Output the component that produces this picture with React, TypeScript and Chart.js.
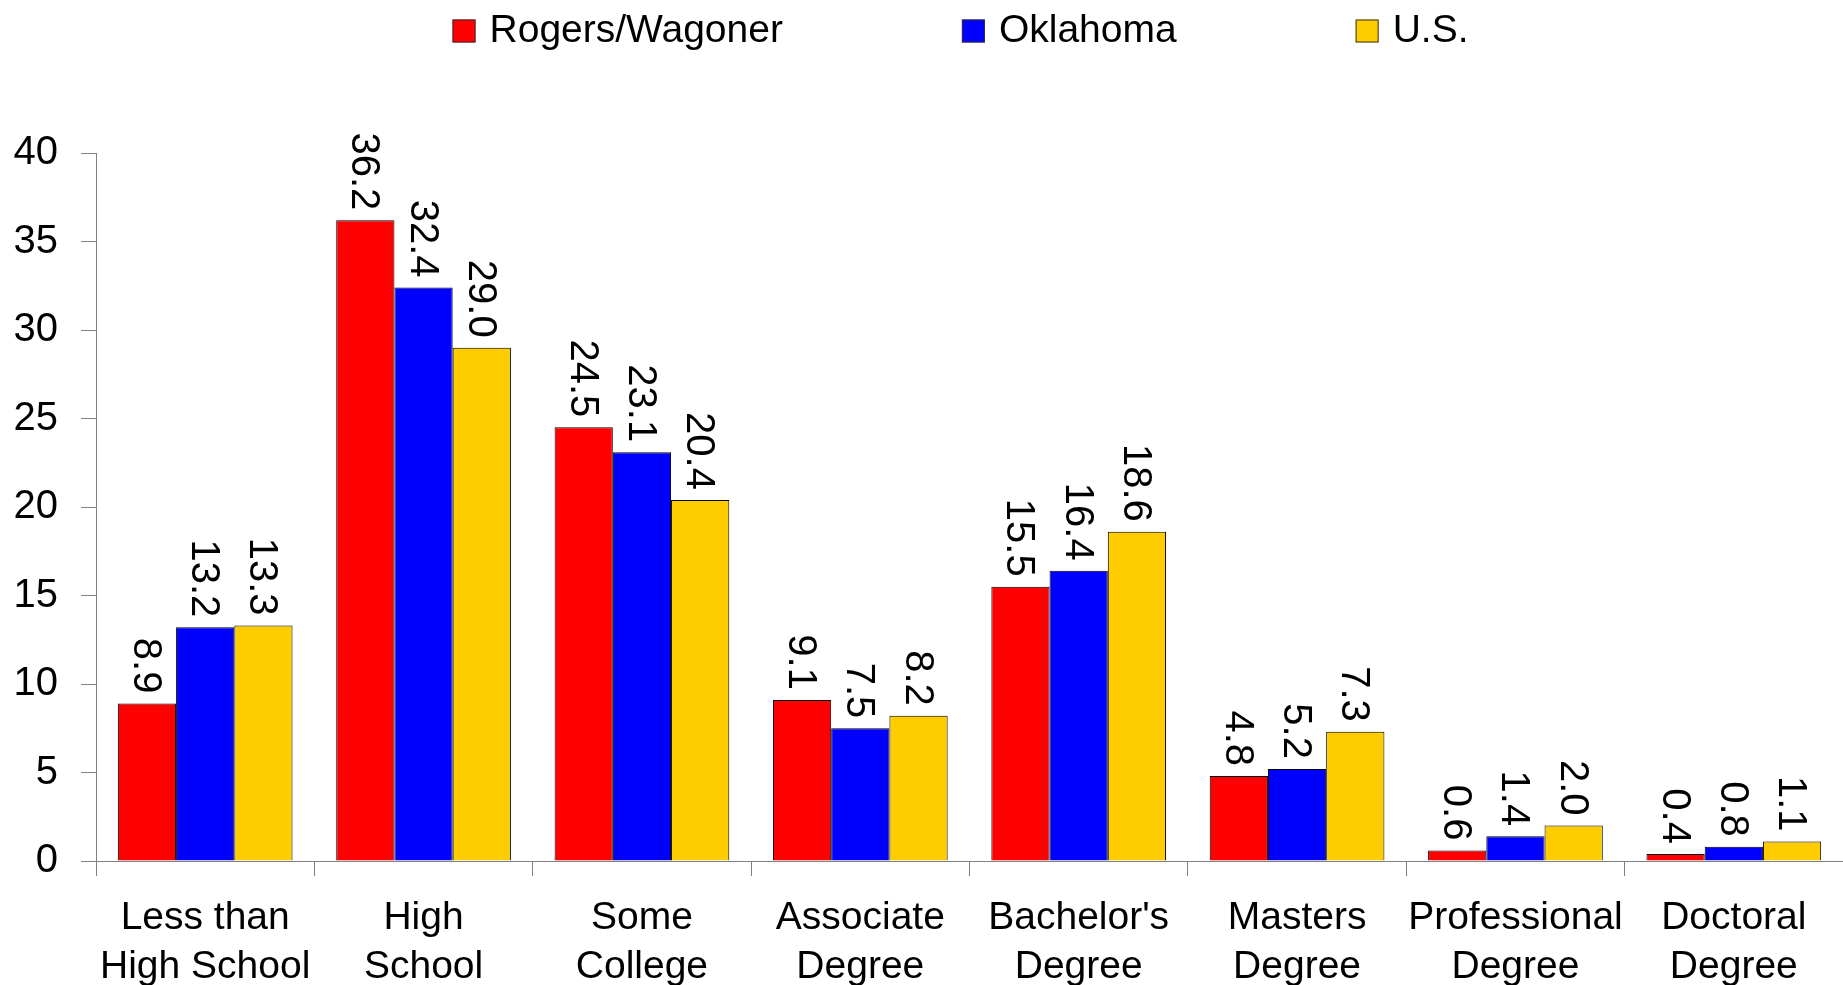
import React, { useEffect, useRef } from 'react';
import { Chart, registerables } from 'chart.js';

Chart.register(...registerables);

const FONT = '"Liberation Sans", Arial, Helvetica, sans-serif';

const categories: string[][] = [
  ['Less than', 'High School'],
  ['High', 'School'],
  ['Some', 'College'],
  ['Associate', 'Degree'],
  ["Bachelor's", 'Degree'],
  ['Masters', 'Degree'],
  ['Professional', 'Degree'],
  ['Doctoral', 'Degree'],
];

const seriesNames = ['Rogers/Wagoner', 'Oklahoma', 'U.S.'];
const rogersWagoner = [8.9, 36.2, 24.5, 9.1, 15.5, 4.8, 0.6, 0.4];
const oklahoma = [13.2, 32.4, 23.1, 7.5, 16.4, 5.2, 1.4, 0.8];
const unitedStates = [13.3, 29.0, 20.4, 8.2, 18.6, 7.3, 2.0, 1.1];
const seriesColors = ['#FF0000', '#0000FF', '#FFCC00'];

const yMin = 0;
const yMax = 40;
const yStep = 5;

const valueLabels = {
  id: 'valueLabels',
  afterDatasetsDraw(chart: any) {
    const ctx = chart.ctx;
    ctx.save();
    ctx.font = `40px ${FONT}`;
    ctx.fillStyle = '#000';
    ctx.textAlign = 'right';
    ctx.textBaseline = 'middle';
    chart.data.datasets.forEach((ds: any, i: number) => {
      const meta = chart.getDatasetMeta(i);
      meta.data.forEach((el: any, j: number) => {
        const v = ds.data[j] as number;
        ctx.save();
        ctx.translate(el.x - 2, el.y - 10);
        ctx.rotate(Math.PI / 2);
        ctx.fillText(v.toFixed(1), 0, 0);
        ctx.restore();
      });
    });
    ctx.restore();
  },
};

const topLegend = {
  id: 'topLegend',
  afterDraw(chart: any) {
    const ctx = chart.ctx;
    const box = 23;
    const gap = 14;
    const spacing = 179;
    ctx.save();
    ctx.font = `39px ${FONT}`;
    const widths = chart.data.datasets.map((d: any) => ctx.measureText(d.label).width);
    const total =
      widths.reduce((a: number, w: number) => a + box + gap + w, 0) + spacing * (widths.length - 1);
    const center = (chart.chartArea.left + chart.chartArea.right) / 2 - 9;
    let x = center - total / 2;
    const cy = 31;
    chart.data.datasets.forEach((d: any, i: number) => {
      ctx.fillStyle = d.backgroundColor;
      ctx.fillRect(x, cy - box / 2, box, box);
      ctx.strokeStyle = '#333';
      ctx.lineWidth = 1;
      ctx.strokeRect(x + 0.5, cy - box / 2 + 0.5, box - 1, box - 1);
      ctx.fillStyle = '#000';
      ctx.textAlign = 'left';
      ctx.textBaseline = 'middle';
      ctx.fillText(d.label, x + box + gap, cy);
      x += box + gap + widths[i] + spacing;
    });
    ctx.restore();
  },
};

export default function App() {
  const canvasRef = useRef<HTMLCanvasElement | null>(null);

  useEffect(() => {
    const canvas = canvasRef.current;
    if (!canvas) return;
    const seriesData = [rogersWagoner, oklahoma, unitedStates];
    const chart = new Chart(canvas, {
      type: 'bar',
      data: {
        labels: categories,
        datasets: seriesNames.map((name, i) => ({
          label: name,
          data: seriesData[i],
          backgroundColor: seriesColors[i],
          borderColor: '#000',
          borderWidth: 1,
          categoryPercentage: 0.8,
          barPercentage: 1.0,
        })),
      },
      options: {
        responsive: false,
        animation: false,
        layout: { padding: { top: 153, left: 0, right: 0, bottom: 0 } },
        plugins: {
          legend: { display: false },
          tooltip: { enabled: false },
        },
        scales: {
          x: {
            grid: {
              offset: true,
              drawOnChartArea: false,
              drawTicks: true,
              tickLength: 15,
              color: '#808080',
            },
            border: { display: true, color: '#808080', width: 1 },
            ticks: {
              color: '#000',
              font: { family: FONT, size: 39, lineHeight: 1.27 },
              padding: 17,
              maxRotation: 0,
              autoSkip: false,
            },
            afterFit(scale: any) {
              scale.height = 124;
            },
          },
          y: {
            min: yMin,
            max: yMax,
            grid: {
              drawOnChartArea: false,
              drawTicks: true,
              tickLength: 15,
              color: '#808080',
            },
            border: { display: true, color: '#808080', width: 1 },
            ticks: {
              stepSize: yStep,
              color: '#000',
              font: { family: FONT, size: 40 },
              padding: 23,
            },
            afterFit(scale: any) {
              scale.width = 96;
            },
          },
        },
      },
      plugins: [valueLabels, topLegend],
    });
    return () => chart.destroy();
  }, []);

  return (
    <div style={{ position: 'fixed', left: 0, top: 0, width: 1843, height: 985, background: '#fff' }}>
      <canvas ref={canvasRef} width={1843} height={985} style={{ display: 'block' }} />
    </div>
  );
}
